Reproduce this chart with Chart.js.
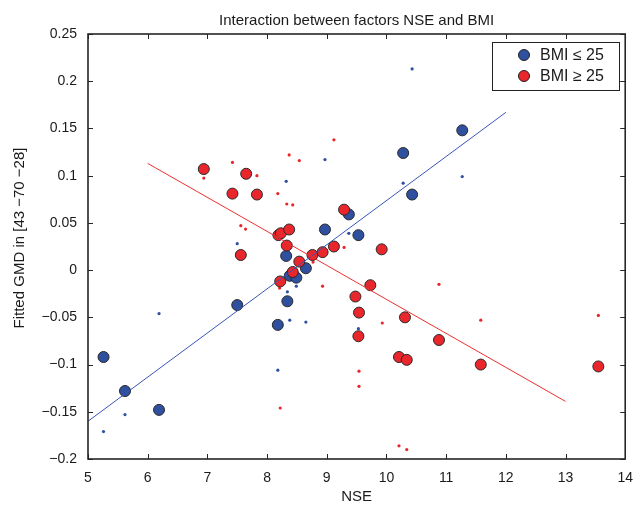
<!DOCTYPE html>
<html>
<head>
<meta charset="utf-8">
<script src="https://cdn.jsdelivr.net/npm/chart.js@4"></script>
<style>
  body { margin: 0; background: #fff; }
  canvas { display: block; }
</style>
</head>
<body>
<canvas id="chart" width="636" height="505"></canvas>
<script>
// BMI <= 25 group: fitted values (big markers) and raw values (small dots)
const blueX = [5.26, 5.62, 6.19, 7.5, 8.18, 8.34, 8.32, 8.38, 8.49, 8.65, 8.97, 9.37, 9.53, 10.28, 10.43, 11.27];
const blueFit = [-0.092, -0.128, -0.148, -0.037, -0.058, -0.033, 0.015, -0.006, -0.008, 0.002, 0.043, 0.059, 0.037, 0.124, 0.080, 0.148];
const blueRaw = [-0.171, -0.153, -0.046, 0.028, -0.106, -0.023, 0.094, -0.053, -0.017, -0.055, 0.117, 0.039, -0.062, 0.092, 0.213, 0.099];

// BMI >= 25 group
const redX = [6.94, 7.42, 7.56, 7.65, 7.83, 8.19, 8.22, 8.23, 8.33, 8.37, 8.43, 8.54, 8.76, 8.93, 9.12, 9.29, 9.48, 9.53, 9.54, 9.73, 9.92, 10.21, 10.31, 10.34, 10.88, 11.58, 13.55];
const redFit = [0.107, 0.081, 0.016, 0.102, 0.080, 0.037, -0.012, 0.039, 0.026, 0.043, -0.002, 0.009, 0.016, 0.019, 0.025, 0.064, -0.028, -0.070, -0.045, -0.016, 0.022, -0.092, -0.050, -0.095, -0.074, -0.100, -0.102];
const redRawX = [6.94, 7.42, 7.56, 7.64, 7.83, 8.18, 8.21, 8.22, 8.33, 8.37, 8.43, 8.54, 8.77, 8.93, 9.12, 9.29, 9.5, 9.54, 9.54, 9.93, 10.21, 10.34, 10.88, 11.58, 13.55];
const redRaw = [0.0975, 0.114, 0.047, 0.0435, 0.100, 0.081, -0.019, -0.146, 0.070, 0.122, 0.069, 0.116, 0.0085, -0.017, 0.138, 0.024, 0.040, -0.107, -0.123, -0.056, -0.186, -0.190, -0.015, -0.053, -0.048];

// regression lines
const blueLineX = [5, 12];
const blueLineY = [-0.160, 0.167];
const redLineX = [6, 13];
const redLineY = [0.113, -0.139];

// axes
const xTicks = [5, 6, 7, 8, 9, 10, 11, 12, 13, 14];
const yTicks = [-0.2, -0.15, -0.1, -0.05, 0, 0.05, 0.1, 0.15, 0.2, 0.25];
const yTickLabels = ["\u22120.2", "\u22120.15", "\u22120.1", "\u22120.05", "0", "0.05", "0.1", "0.15", "0.2", "0.25"];
const legendLabels = ["BMI \u2264 25", "BMI \u2265 25"];

const BLUE = "#2f4f9f";
const RED = "#e8262c";
const FONT = "'Liberation Sans', Arial, sans-serif";

function pts(xs, ys) {
  return xs.map((x, i) => ({ x: x, y: ys[i] }));
}

const framePlugin = {
  id: "frame",
  afterDraw(chart) {
    const ctx = chart.ctx;
    const a = chart.chartArea;
    const xs = chart.scales.x;
    const ys = chart.scales.y;
    ctx.save();
    ctx.strokeStyle = "#262626";
    ctx.lineWidth = 1;
    // inward ticks on all four sides
    ctx.beginPath();
    xTicks.forEach(v => {
      const px = Math.round(xs.getPixelForValue(v)) + 0.5;
      ctx.moveTo(px, a.bottom); ctx.lineTo(px, a.bottom - 5);
      ctx.moveTo(px, a.top); ctx.lineTo(px, a.top + 5);
    });
    yTicks.forEach(v => {
      const py = Math.round(ys.getPixelForValue(v)) + 0.5;
      ctx.moveTo(a.left, py); ctx.lineTo(a.left + 5, py);
      ctx.moveTo(a.right, py); ctx.lineTo(a.right - 5, py);
    });
    ctx.stroke();
    ctx.lineWidth = 1.6;
    ctx.strokeRect(a.left, a.top, a.right - a.left, a.bottom - a.top);

    // title and axis labels
    ctx.fillStyle = "#1a1a1a";
    ctx.textAlign = "center";
    ctx.textBaseline = "middle";
    ctx.font = "15px " + FONT;
    const cx = (a.left + a.right) / 2;
    ctx.fillText("Interaction between factors NSE and BMI", cx, 21);
    ctx.fillText("NSE", cx, 497);
    ctx.save();
    ctx.translate(20, 238);
    ctx.rotate(-Math.PI / 2);
    ctx.fillText("Fitted GMD in [43 \u221270 \u221228]", 0, 0);
    ctx.restore();

    // legend
    const lx = 492, ly = 42, lw = 127, lh = 48;
    ctx.fillStyle = "#fff";
    ctx.fillRect(lx, ly, lw, lh);
    ctx.lineWidth = 1;
    ctx.strokeStyle = "#222";
    ctx.strokeRect(lx + 0.5, ly + 0.5, lw, lh);
    [BLUE, RED].forEach((c, i) => {
      const y = ly + 13 + i * 21;
      ctx.beginPath();
      ctx.arc(lx + 32, y, 5.5, 0, Math.PI * 2);
      ctx.fillStyle = c;
      ctx.fill();
      ctx.strokeStyle = "#222";
      ctx.stroke();
      ctx.fillStyle = "#1a1a1a";
      ctx.textAlign = "left";
      ctx.font = "16px " + FONT;
      ctx.fillText(legendLabels[i], lx + 48, y + 1);
    });
    ctx.restore();
  }
};

new Chart(document.getElementById("chart"), {
  type: "scatter",
  data: {
    datasets: [
      {
        label: "redLine", type: "line", data: pts(redLineX, redLineY),
        borderColor: "#ee3030", borderWidth: 1, pointRadius: 0, fill: false
      },
      {
        label: "blueLine", type: "line", data: pts(blueLineX, blueLineY),
        borderColor: "#3556b8", borderWidth: 1, pointRadius: 0, fill: false
      },
      {
        label: legendLabels[1], data: pts(redX, redFit),
        backgroundColor: RED, borderColor: "#2a2a2a", borderWidth: 1, pointRadius: 5.5
      },
      {
        label: legendLabels[0], data: pts(blueX, blueFit),
        backgroundColor: BLUE, borderColor: "#2a2a2a", borderWidth: 1, pointRadius: 5.5
      },
      {
        label: "redRaw", data: pts(redRawX, redRaw),
        backgroundColor: RED, borderWidth: 0, pointRadius: 1.6
      },
      {
        label: "blueRaw", data: pts(blueX, blueRaw),
        backgroundColor: BLUE, borderWidth: 0, pointRadius: 1.6
      }
    ]
  },
  options: {
    responsive: false,
    animation: false,
    layout: { padding: { top: 34, right: 9, left: 0, bottom: 0 } },
    plugins: {
      legend: { display: false },
      tooltip: { enabled: false }
    },
    scales: {
      x: {
        type: "linear", min: 5, max: 14,
        afterFit: s => { s.height = 46; },
        afterBuildTicks: s => { s.ticks = xTicks.map(v => ({ value: v })); },
        grid: { display: false },
        border: { display: false },
        ticks: { color: "#1a1a1a", font: { family: FONT, size: 14 }, padding: 3, maxRotation: 0 }
      },
      y: {
        type: "linear", min: -0.2, max: 0.25,
        afterFit: s => { s.width = 88; },
        afterBuildTicks: s => { s.ticks = yTicks.map(v => ({ value: v })); },
        grid: { display: false },
        border: { display: false },
        ticks: {
          color: "#1a1a1a", font: { family: FONT, size: 14 }, padding: 3,
          callback: (v) => {
            const i = yTicks.findIndex(t => Math.abs(t - v) < 1e-9);
            return i >= 0 ? yTickLabels[i] : "";
          }
        }
      }
    }
  },
  plugins: [framePlugin]
});
</script>
</body>
</html>
